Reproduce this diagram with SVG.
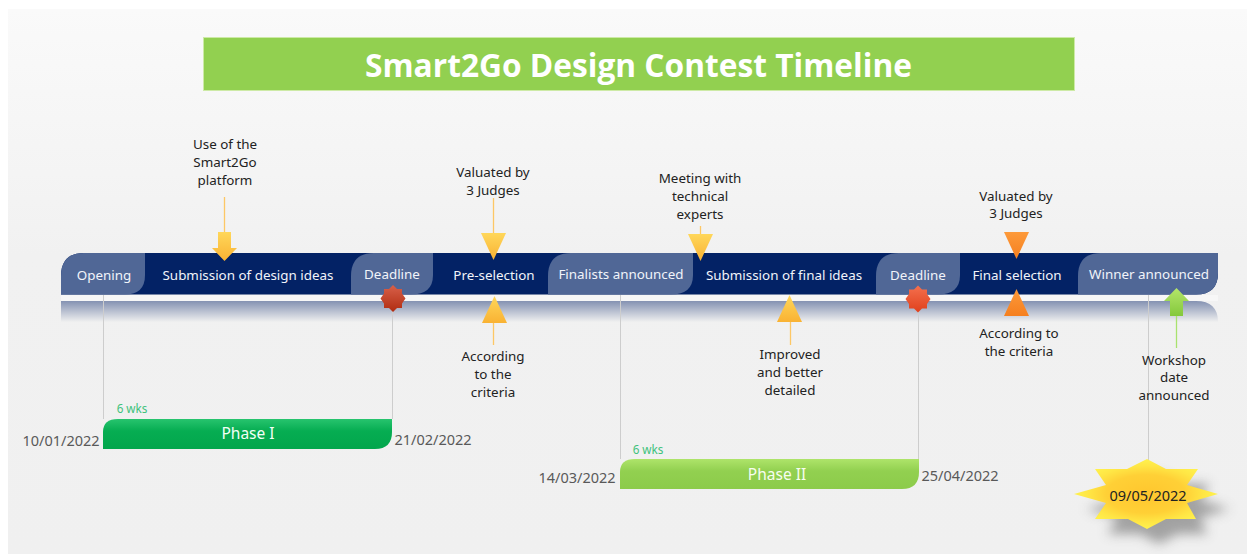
<svg xmlns="http://www.w3.org/2000/svg" width="1247" height="554" viewBox="0 0 1247 554">
<style>
text{font-family:"Noto Sans","DejaVu Sans",sans-serif;text-anchor:middle}
.w{font-size:13.400px;fill:#f1f4fa}
.k{font-size:13.400px;fill:#222}
.d{font-size:14.500px;fill:#595959}
.wk{font-size:11.700px;fill:#3fc27c}
.lead{stroke:#cdcdcd;stroke-width:1;fill:none}
.seg{fill:#506796}
</style>
<defs>
<linearGradient id="bg" x1="0" y1="0" x2="0" y2="1"><stop offset="0" stop-color="#fafafa"/><stop offset="0.45" stop-color="#f1f1f1"/><stop offset="1" stop-color="#f0f0f0"/></linearGradient>
<linearGradient id="refl" x1="0" y1="0" x2="0" y2="1"><stop offset="0" stop-color="#8492b2"/><stop offset="1" stop-color="#f0f0f0"/></linearGradient>
<linearGradient id="gold" x1="0" y1="0" x2="0" y2="1"><stop offset="0" stop-color="#ffd75a"/><stop offset="1" stop-color="#f9b233"/></linearGradient>
<linearGradient id="orange" x1="0" y1="0" x2="0" y2="1"><stop offset="0" stop-color="#fd9a3a"/><stop offset="1" stop-color="#f57f1f"/></linearGradient>
<linearGradient id="red1" x1="0" y1="0" x2="0" y2="1"><stop offset="0" stop-color="#d8604a"/><stop offset="1" stop-color="#b02c10"/></linearGradient>
<linearGradient id="red2" x1="0" y1="0" x2="0" y2="1"><stop offset="0" stop-color="#f4704e"/><stop offset="1" stop-color="#e0401c"/></linearGradient>
<linearGradient id="lime" x1="0" y1="0" x2="0" y2="1"><stop offset="0" stop-color="#b4e66a"/><stop offset="1" stop-color="#84c83c"/></linearGradient>
<linearGradient id="p1" x1="0" y1="0" x2="0" y2="1"><stop offset="0" stop-color="#27c46e"/><stop offset="0.4" stop-color="#06ad52"/><stop offset="1" stop-color="#02a64c"/></linearGradient>
<linearGradient id="p2" x1="0" y1="0" x2="0" y2="1"><stop offset="0" stop-color="#aee46a"/><stop offset="0.4" stop-color="#92d050"/><stop offset="1" stop-color="#8ccb4a"/></linearGradient>
<radialGradient id="star"><stop offset="0" stop-color="#ffc62e"/><stop offset="0.55" stop-color="#ffd036"/><stop offset="0.8" stop-color="#ffe645"/><stop offset="1" stop-color="#fff24d"/></radialGradient>
<filter id="sh" x="-30%" y="-30%" width="170%" height="190%"><feGaussianBlur stdDeviation="6"/></filter>
<path id="down" d="M-12.500 0H12.500L0 27Z"/>
<path id="up" d="M0 -27L12.500 0H-12.500Z"/>
<path id="burst" d="M0-13.500 4-9.500 9-9.500 9-5 12.500 0 9 5 9 9.500 4 9.500 0 13.500-4 9.500-9 9.500-9 5-12.500 0-9-5-9-9.500-4-9.500Z"/>
<path id="burstbig" d="M0-35 19-25 51-25 40-9 71 0 40 9 49 25 19 25 0 35-19 25-52 25-41 9-73 0-41-9-52-25-20-25Z"/>
</defs>
<rect id="background" x="8" y="9" width="1239" height="545" fill="url(#bg)"/>
<g id="title"><rect x="203.500" y="37.500" width="871" height="53" fill="#92d050" stroke="#cdeaa6" stroke-width="1"/><text x="638.500" y="77" style="font-family:'Open Sans','Noto Sans',sans-serif;font-size:31.700px;font-weight:700;fill:#fff">Smart2Go Design Contest Timeline</text></g>

<g id="band">
<rect x="61" y="295" width="1157" height="6" fill="#f7f7f7"/>
<path d="M61 322V301H1196Q1218 301 1218 322Z" fill="url(#refl)"/>
<path d="M61 294.500V276Q61 253 84 253H1218V273Q1218 294.500 1196 294.500Z" fill="#032265"/>
</g>
<g id="connectors">
<path class="lead" d="M103.500 295V419M392.500 305V419M620.500 295V459M918.500 305V459M1148.500 295V465"/>
<path d="M224.500 197V238M493.500 198V236M493.500 322V345M700.500 226V236M790.500 322V345" fill="none" stroke="#fdc765" stroke-width="1.300"/>
<path d="M1176.500 316V348" fill="none" stroke="#a9e26e" stroke-width="1.300"/>
</g>
<g id="opening"><path class="seg" d="M61 294.500V276Q61 253 84 253H145V275Q145 294.500 125 294.500Z"/><text class="w" x="104" y="280">Opening</text></g>
<g id="submission-design"><text class="w" x="248" y="280">Submission of design ideas</text></g>
<g id="deadline-1"><path class="seg" d="M351 294.500V276Q351 253 374 253H433V275Q433 294.500 411 294.500Z"/><text class="w" x="392" y="279">Deadline</text></g>
<g id="pre-selection"><text class="w" x="494" y="280">Pre-selection</text></g>
<g id="finalists"><path class="seg" d="M548 294.500V276Q548 253 571 253H693V275Q693 294.500 671 294.500Z"/><text class="w" x="621" y="279">Finalists announced</text></g>
<g id="submission-final"><text class="w" x="784" y="280">Submission of final ideas</text></g>
<g id="deadline-2"><path class="seg" d="M876 294.500V276Q876 253 899 253H960V275Q960 294.500 938 294.500Z"/><text class="w" x="918" y="280">Deadline</text></g>
<g id="final-selection"><text class="w" x="1017" y="280">Final selection</text></g>
<g id="winner"><path class="seg" d="M1078 294.500V276Q1078 253 1101 253H1218V273Q1218 294.500 1196 294.500Z"/><text class="w" x="1149" y="279">Winner announced</text></g>

<g id="note-use"><text class="k" x="225" y="149">Use of the</text><text class="k" x="225" y="167">Smart2Go</text><text class="k" x="225" y="185">platform</text>
<path d="M218 232H231V248H237L224.500 261 212 248H218Z" fill="url(#gold)"/></g>
<g id="note-judges-1"><text class="k" x="493" y="177">Valuated by</text><text class="k" x="493" y="195">3 Judges</text><use href="#down" x="493.500" y="233" fill="url(#gold)"/></g>
<g id="note-criteria-1"><use href="#up" x="494.500" y="323" fill="url(#gold)"/><text class="k" x="493" y="361">According</text><text class="k" x="493" y="379">to the</text><text class="k" x="493" y="397">criteria</text></g>
<g id="note-meeting"><text class="k" x="700" y="183">Meeting with</text><text class="k" x="700" y="201">technical</text><text class="k" x="700" y="219">experts</text><use href="#down" x="700.500" y="234" fill="url(#gold)"/></g>
<g id="note-improved"><use href="#up" x="789.500" y="322" fill="url(#gold)"/><text class="k" x="790" y="359">Improved</text><text class="k" x="790" y="377">and better</text><text class="k" x="790" y="395">detailed</text></g>
<g id="note-judges-2"><text class="k" x="1016" y="201">Valuated by</text><text class="k" x="1016" y="218">3 Judges</text><use href="#down" x="1016.500" y="232" fill="url(#orange)"/></g>
<g id="note-criteria-2"><use href="#up" x="1016.500" y="316" fill="url(#orange)"/><text class="k" x="1019" y="338">According to</text><text class="k" x="1019" y="356">the criteria</text></g>
<g id="note-workshop"><path d="M1170 316V301H1164L1176.500 288 1189 301H1183V316Z" fill="url(#lime)"/><text class="k" x="1174" y="365">Workshop</text><text class="k" x="1174" y="382">date</text><text class="k" x="1174" y="400">announced</text></g>

<g id="burst-1"><use href="#burst" x="393" y="298.500" fill="url(#red1)"/></g>
<g id="burst-2"><use href="#burst" x="918" y="299" fill="url(#red2)"/></g>

<g id="phase-1"><text class="wk" x="132" y="413">6 wks</text><path d="M103 449V432Q103 419 118 419H392V432Q392 449 375 449Z" fill="url(#p1)"/><text x="248" y="439" style="font-size:15.500px;fill:#f2fff6">Phase I</text><text class="d" x="61" y="446">10/01/2022</text><text class="d" x="433" y="445">21/02/2022</text></g>
<g id="phase-2"><text class="wk" x="648" y="454">6 wks</text><path d="M620 489V472Q620 459 635 459H919V472Q919 489 902 489Z" fill="url(#p2)"/><text x="777" y="480" style="font-size:15.500px;fill:#f7fdf0">Phase II</text><text class="d" x="577" y="483">14/03/2022</text><text class="d" x="960" y="481">25/04/2022</text></g>
<g id="milestone"><use href="#burstbig" x="1159" y="509" fill="#555" opacity=".5" filter="url(#sh)"/><use href="#burstbig" x="1147" y="494" fill="url(#star)"/><text x="1148" y="501" style="font-size:14.500px;fill:#222">09/05/2022</text></g>
</svg>
